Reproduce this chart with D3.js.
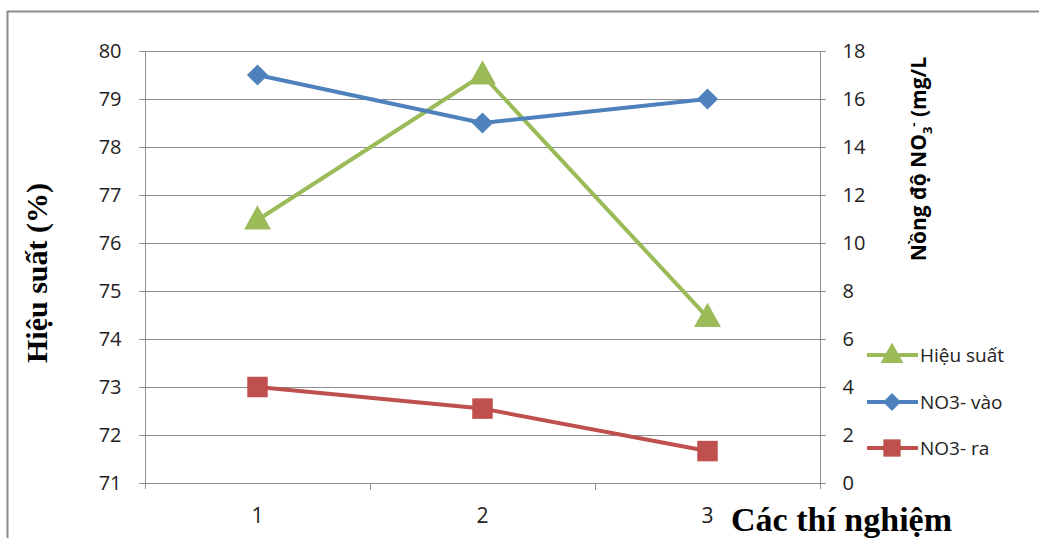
<!DOCTYPE html>
<html><head><meta charset="utf-8">
<script src="https://cdn.jsdelivr.net/npm/d3@7"></script>
<style>
html,body{margin:0;padding:0;background:#fff;}
svg{display:block;}
</style></head>
<body>
<svg id="chart" width="1039" height="538"></svg>
<script>
const categories = ["1", "2", "3"];
const hieuSuat = [76.48, 79.5, 74.45];
const no3Vao = [17, 15, 16];
const no3Ra = [4, 3.1, 1.33];
const leftTicks = [71, 72, 73, 74, 75, 76, 77, 78, 79, 80];
const rightTicks = [0, 2, 4, 6, 8, 10, 12, 14, 16, 18];
const legendLabels = ["Hiệu suất", "NO3- vào", "NO3- ra"];

const svg = d3.select("#chart");
const L = 145, R = 820, T = 51, B = 483;
const green = "#9BBB59", blue = "#4F81BD", red = "#C0504D";

svg.append("rect").attr("x", 7.5).attr("y", 11.5).attr("width", 1100).attr("height", 600)
  .attr("fill", "#fff").attr("stroke", "#8c8c8c").attr("stroke-width", 2);

const x = d3.scaleBand().domain(categories).range([L, R]);
const yL = d3.scaleLinear().domain([71, 80]).range([B, T]);
const yR = d3.scaleLinear().domain([0, 18]).range([B, T]);

// gridlines
svg.append("g").selectAll("line").data(leftTicks).join("line")
  .attr("x1", L - 6).attr("x2", R + 6)
  .attr("y1", d => Math.round(yL(d)) + 0.5).attr("y2", d => Math.round(yL(d)) + 0.5)
  .attr("stroke", "#8e8e8e").attr("stroke-width", 1);

const tickFont = 20;
// left axis
const gL = svg.append("g").attr("transform", `translate(${L + 0.5},0)`)
  .call(d3.axisLeft(yL).tickValues(leftTicks).tickSize(0).tickPadding(24));
gL.select(".domain").attr("stroke", "#8e8e8e").attr("d", `M0,${T}V${B + 6}`);
gL.selectAll("text").attr("font-family", "Open Sans, sans-serif").attr("font-size", tickFont).attr("fill", "#222");

// right axis
const gR = svg.append("g").attr("transform", `translate(${R + 0.5},0)`)
  .call(d3.axisRight(yR).tickValues(rightTicks).tickSize(0).tickPadding(22));
gR.select(".domain").attr("stroke", "#8e8e8e").attr("d", `M0,${T}V${B + 6}`);
gR.selectAll("text").attr("font-family", "Open Sans, sans-serif").attr("font-size", tickFont).attr("fill", "#222");

// bottom axis
const gB = svg.append("g").attr("transform", `translate(0,${B + 0.5})`)
  .call(d3.axisBottom(x).tickSize(0).tickPadding(25));
gB.select(".domain").remove();
gB.selectAll("text").attr("font-family", "Open Sans, sans-serif").attr("font-size", 21).attr("fill", "#222");
// category boundary ticks
const bounds = x.domain().slice(1).map(d => x(d));
svg.append("g").selectAll("line").data(bounds).join("line")
  .attr("x1", d => Math.round(d) + 0.5).attr("x2", d => Math.round(d) + 0.5)
  .attr("y1", B).attr("y2", B + 7).attr("stroke", "#8e8e8e");

const cx = d => x(d) + x.bandwidth() / 2;
const lineGen = (scale) => d3.line().x((d, i) => cx(categories[i])).y(d => scale(d));

function series(vals, scale, color, shape, size) {
  svg.append("path").datum(vals).attr("d", lineGen(scale))
    .attr("fill", "none").attr("stroke", color).attr("stroke-width", 4).attr("stroke-linejoin", "round");
  svg.append("g").selectAll("path").data(vals).join("path")
    .attr("transform", (d, i) => `translate(${cx(categories[i])},${scale(d)})`)
    .attr("d", d3.symbol().type(shape).size(size)).attr("fill", color);
}
const diamond = {draw(ctx, s){const r=Math.sqrt(s)/1.4; ctx.moveTo(0,-r); ctx.lineTo(r,0); ctx.lineTo(0,r); ctx.lineTo(-r,0); ctx.closePath();}};
const tri = {draw(ctx, s){const r=Math.sqrt(s)/1.6; ctx.moveTo(0,-r*1.15); ctx.lineTo(r*1.05,r*0.75); ctx.lineTo(-r*1.05,r*0.75); ctx.closePath();}};

series(hieuSuat, yL, green, tri, 420);
series(no3Vao, yR, blue, diamond, 220);
series(no3Ra, yR, red, d3.symbolSquare, 420);

// legend
const legColors = [green, blue, red];
const legShapes = [tri, diamond, d3.symbolSquare];
const legSizes = [300, 160, 300];
const legY = [355, 402, 448];
legendLabels.forEach((lab, i) => {
  const g = svg.append("g").attr("transform", `translate(0,${legY[i]})`);
  g.append("line").attr("x1", 867).attr("x2", 918).attr("stroke", legColors[i]).attr("stroke-width", 4);
  g.append("path").attr("transform", "translate(892,0)").attr("d", d3.symbol().type(legShapes[i]).size(legSizes[i])).attr("fill", legColors[i]);
  g.append("text").attr("x", 920).attr("y", 7).attr("font-family", "Open Sans, sans-serif").attr("font-size", 19).attr("fill", "#222").text(lab);
});

// left axis title
svg.append("text").attr("transform", "translate(47,273) rotate(-90)").attr("text-anchor", "middle")
  .attr("font-family", "Liberation Serif, serif").attr("font-weight", "bold").attr("font-size", 30).attr("fill", "#000")
  .text("Hiệu suất (%)");

// right axis title
const rt = svg.append("text").attr("transform", "translate(926,159) rotate(-90)").attr("text-anchor", "middle")
  .attr("font-family", "Open Sans, sans-serif").attr("font-weight", "bold").attr("font-size", 21).attr("fill", "#000");
rt.append("tspan").text("Nồng độ NO");
rt.append("tspan").attr("font-size", 13).attr("dy", 6).text("3");
rt.append("tspan").attr("font-size", 13).attr("dy", -14).text("-");
rt.append("tspan").attr("dy", 8).text(" (mg/L");

// x axis title
svg.append("text").attr("x", 731).attr("y", 531)
  .attr("font-family", "Liberation Serif, serif").attr("font-weight", "bold").attr("font-size", 34).attr("fill", "#000")
  .text("Các thí nghiệm");
</script>
</body></html>
